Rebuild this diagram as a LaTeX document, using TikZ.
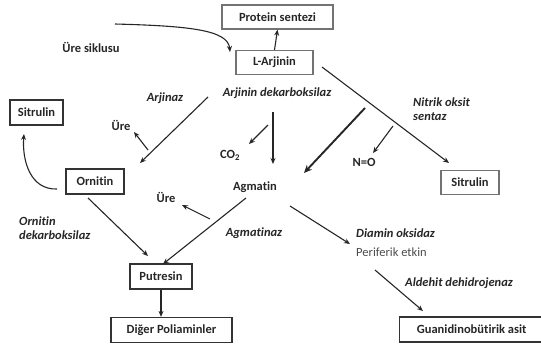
\documentclass[tikz,border=0pt]{standalone}
\usepackage{fontspec}
\setmainfont{Carlito}[Ligatures=NoCommon]
\usetikzlibrary{arrows.meta}
\begin{document}
\begin{tikzpicture}[x=1pt,y=-1pt,
  font=\fontsize{12.5}{14}\selectfont\bfseries,
  txt/.style={inner sep=1pt, text=black!85},
  enz/.style={txt, font=\fontsize{12.5}{14.5}\selectfont\bfseries\itshape},
  boxa/.style={draw=black!55, line width=1.3pt, inner sep=0pt, minimum height=24, text=black!85},
  boxb/.style={draw=black!80, line width=1.3pt, inner sep=0pt, minimum height=25, text=black!85},
  arr/.style={draw=black!85, line width=1.1pt, -{Stealth[length=6pt,width=5pt]}},
  thk/.style={draw=black!85, line width=1.9pt, -{Stealth[length=8pt,width=7pt]}}]
\useasboundingbox (0,0) rectangle (541,346);
% boxes
\node[boxa, minimum width=111] (prot) at (277.5,17) {Protein sentezi};
\node[boxa, minimum width=77] (larj) at (274.5,62.5) {L-Arjinin};
\node[boxb, minimum width=53] (sitL) at (36.5,112.5) {Sitrulin};
\node[boxb, minimum width=58] (orn) at (95,181.5) {Ornitin};
\node[boxa, minimum width=58] (sitR) at (470,182.5) {Sitrulin};
\node[boxb, minimum width=62] (put) at (161,276.5) {Putresin};
\node[boxb, minimum width=121] (dig) at (171.5,330) {Diğer Poliaminler};
\node[boxb, minimum width=144, anchor=west] (gua) at (399,329.5) {Guanidinobütirik asit};
% plain texts
\node[txt] (agm) at (255,187) {Agmatin};
\node[txt] (ure1) at (121,125) {Üre};
\node[txt] (ure2) at (166,197) {Üre};
\node[txt] (co2) at (230,155) {CO\textsubscript{2}};
\node[txt] (no) at (364,162) {N=O};
\node[txt] (useq) at (91,47) {Üre siklusu};
% enzyme labels
\node[enz] (arjz) at (165,98) {Arjinaz};
\node[enz] (adk) at (277,93) {Arjinin dekarboksilaz};
\node[enz, align=left, anchor=west] (nos) at (412,109) {Nitrik oksit\\sentaz};
\node[enz, align=left, anchor=west] (odk) at (18,228) {Ornitin\\dekarboksilaz};
\node[enz] (agz) at (254,233) {Agmatinaz};
\node[enz, anchor=west] (dao) at (355,233) {Diamin oksidaz};
\node[txt, font=\fontsize{12.5}{14}\selectfont, anchor=west, text=black!70] (per) at (355,252) {Periferik etkin};
\node[enz, anchor=west] (ald) at (404,283) {Aldehit dehidrojenaz};
% coordinates
\coordinate (c1) at (115,24);
\coordinate (a1) at (208,97);
\coordinate (a2) at (140,163);
\coordinate (u1) at (148,150);
\coordinate (u1e) at (134,132);
\coordinate (co2s) at (268,125);
\coordinate (co2e) at (249,144);
\coordinate (v1) at (273,112);
\coordinate (v2) at (273,164);
\coordinate (t1) at (365,108);
\coordinate (t2) at (304,173);
\coordinate (n1) at (322,67);
\coordinate (n2) at (449,163);
\coordinate (no1) at (393,126);
\coordinate (no2) at (373,153);
\coordinate (o1) at (88,198);
\coordinate (o2) at (148,256);
\coordinate (u2) at (210,219);
\coordinate (u2e) at (182,205);
\coordinate (g1) at (246,198);
\coordinate (g2) at (163,264);
\coordinate (d1) at (290,206);
\coordinate (d2) at (350,244);
\coordinate (h1) at (375,270);
\coordinate (h2) at (423,311);
\coordinate (s1) at (57,189);
\coordinate (s2) at (24,134);
% connectors
\draw[arr] (larj.north) -- (prot.south);
\draw[arr] (c1) .. controls (190,26) and (228,30) .. (230,52);
\draw[arr] (a1) -- (a2);
\draw[arr] (u1) -- (u1e);
\draw[arr] (co2s) -- (co2e);
\draw[arr] (v1) -- (v2);
\draw[thk] (t1) -- (t2);
\draw[arr] (n1) -- (n2);
\draw[arr] (no1) -- (no2);
\draw[arr] (s1) .. controls (30,190) and (22,160) .. (s2);
\draw[arr] (o1) -- (o2);
\draw[arr] (u2) -- (u2e);
\draw[arr] (g1) -- (g2);
\draw[arr] (d1) -- (d2);
\draw[arr] (h1) -- (h2);
\draw[arr] (put.south) -- (put.south |- dig.north);
\end{tikzpicture}
\end{document}
